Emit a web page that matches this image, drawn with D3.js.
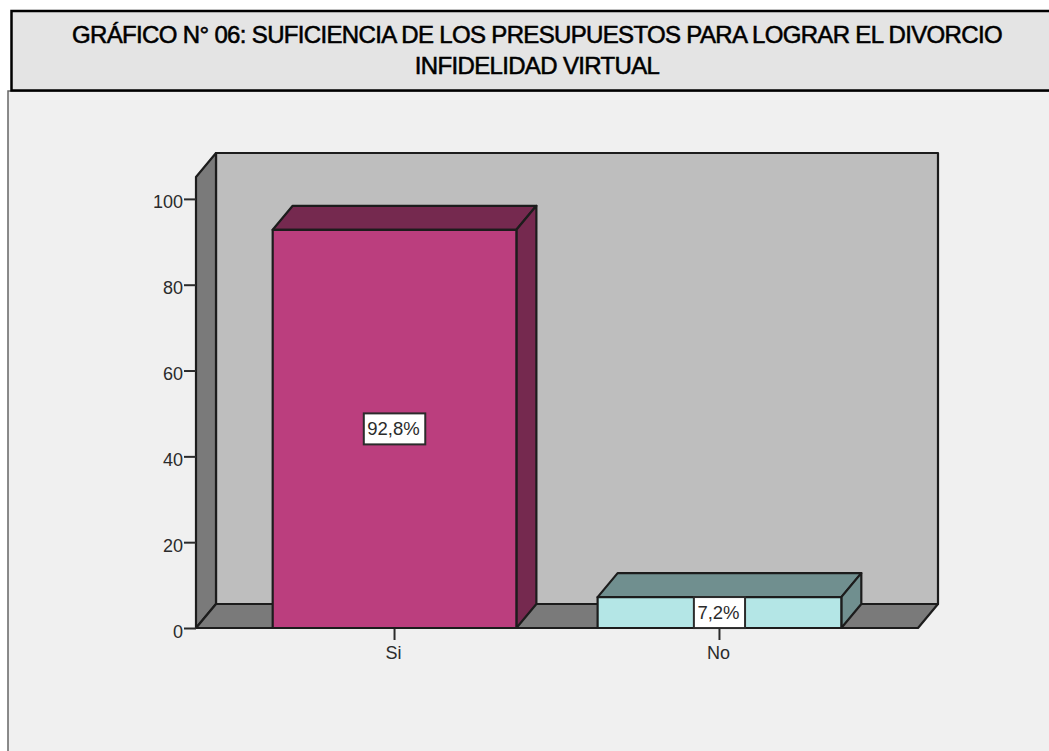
<!DOCTYPE html>
<html>
<head>
<meta charset="utf-8">
<script src="https://cdn.jsdelivr.net/npm/d3@7"></script>
<style>
  html, body { margin: 0; padding: 0; background: #fff; }
  svg { display: block; }
  text { font-family: "Liberation Sans", Arial, sans-serif; fill: #2b2b2b; }
  .titulo { font-family: "Liberation Sans Narrow", "Liberation Sans", sans-serif; font-size: 24px; letter-spacing: -0.66px; fill: #000; stroke: #000; stroke-width: .55px; }
  .eje text { font-size: 18px; }
</style>
</head>
<body>
<div id="graf"></div>
<script>
// datos
categorias = ['Si', 'No']
porcentajes = [92.8, 7.2]
etiquetas = ['92,8%', '7,2%']
ticksY = [0, 20, 40, 60, 80, 100]
titulo = ['GRÁFICO N° 06: SUFICIENCIA DE LOS PRESUPUESTOS PARA LOGRAR EL DIVORCIO', 'INFIDELIDAD VIRTUAL']
colorFrente = ['#bb3e7e', '#b4e6e6']
colorTapa = ['#75294f', '#708f8f']
colorLado = ['#75294f', '#708f8f']

ancho_total = 1049
alto_total = 751
margins = { top: 177, left: 196, right: 131, bottom: 123 }
ancho = ancho_total - margins.left - margins.right
alto = alto_total - margins.top - margins.bottom

// profundidad del efecto 3d
dx = 20
dy = -24

svg = d3.select('#graf').append('svg')
  .attr('width', ancho_total)
  .attr('height', alto_total)

// panel de fondo
svg.append('rect')
  .attr('x', 8).attr('y', 91)
  .attr('width', ancho_total + 10).attr('height', alto_total)
  .attr('fill', '#f0f0f0')
  .attr('stroke', '#666')
  .attr('stroke-width', 1.5)

// caja del titulo
svg.append('rect')
  .attr('x', 11.5).attr('y', 11)
  .attr('width', ancho_total + 10).attr('height', 79.5)
  .attr('fill', '#e4e4e4')
  .attr('stroke', '#000')
  .attr('stroke-width', 2.5)

svg.selectAll('.titulo')
  .data(titulo)
  .enter().append('text')
    .attr('class', 'titulo')
    .attr('x', 537)
    .attr('y', (d, i) => 42.5 + i * 31)
    .attr('text-anchor', 'middle')
    .text(d => d)

g = svg.append('g')
  .attr('transform', `translate(${ margins.left }, ${ margins.top })`)

// escalas
y = d3.scaleLinear()
  .domain([0, 105.1])
  .range([alto, 0])

x = d3.scaleBand()
  .domain(categorias)
  .range([0, ancho])
  .paddingInner(0.25)
  .paddingOuter(0.236)

linea = d3.line()
function poligono(sel, puntos, relleno) {
  sel.append('path')
    .attr('d', linea(puntos) + 'Z')
    .attr('fill', relleno)
    .attr('stroke', '#1c1c1c')
    .attr('stroke-width', 2.2)
    .attr('stroke-linejoin', 'round')
}

// paredes y piso
y0 = y(0)
yTop = y.range()[1]
poligono(g, [[dx, y0 + dy], [ancho + dx, y0 + dy], [ancho + dx, yTop + dy], [dx, yTop + dy]], '#bebebe')
poligono(g, [[0, y0], [dx, y0 + dy], [dx, yTop + dy], [0, yTop]], '#7a7a7a')
poligono(g, [[0, y0], [ancho, y0], [ancho + dx, y0 + dy], [dx, y0 + dy]], '#7a7a7a')

// ejes
yAxisCall = d3.axisLeft(y)
  .tickValues(ticksY)
  .tickSize(12)
  .tickPadding(1)
yAxisGroup = g.append('g').attr('class', 'eje').call(yAxisCall)
yAxisGroup.select('.domain').remove()
yAxisGroup.selectAll('line').attr('stroke', '#2b2b2b').attr('stroke-width', 2)
yAxisGroup.selectAll('text').attr('dy', '0.5em')

xAxisCall = d3.axisBottom(x)
  .tickSize(12)
  .tickPadding(6)
xAxisGroup = g.append('g').attr('class', 'eje')
  .attr('transform', `translate(0, ${ alto })`)
  .call(xAxisCall)
xAxisGroup.select('.domain').remove()
xAxisGroup.selectAll('line').attr('stroke', '#2b2b2b').attr('stroke-width', 2)
xAxisGroup.selectAll('text').attr('dx', '-1')

// barras
categorias.forEach((c, i) => {
  x0 = x(c)
  x1 = x0 + x.bandwidth()
  yv = y(porcentajes[i])
  barra = g.append('g').attr('class', 'barra')
  poligono(barra, [[x0, yv], [x1, yv], [x1 + dx, yv + dy], [x0 + dx, yv + dy]], colorTapa[i])
  poligono(barra, [[x1, y0], [x1 + dx, y0 + dy], [x1 + dx, yv + dy], [x1, yv]], colorLado[i])
  poligono(barra, [[x0, y0], [x1, y0], [x1, yv], [x0, yv]], colorFrente[i])
})

// etiquetas de valor
categorias.forEach((c, i) => {
  cx = x(c) + x.bandwidth() / 2
  cy = y(porcentajes[i] / 2)
  et = g.append('g')
  caja = et.append('rect')
  txt = et.append('text')
    .attr('x', cx - 1)
    .attr('y', cy + 6.5)
    .attr('text-anchor', 'middle')
    .style('font-size', '18.5px')
    .text(etiquetas[i])
  w = txt.node().getComputedTextLength() + 9
  caja.attr('x', cx - w / 2)
    .attr('y', cy - 15.5)
    .attr('width', w)
    .attr('height', 31)
    .attr('fill', '#fff')
    .attr('stroke', '#2b2b2b')
    .attr('stroke-width', 2)
})
</script>
</body>
</html>
